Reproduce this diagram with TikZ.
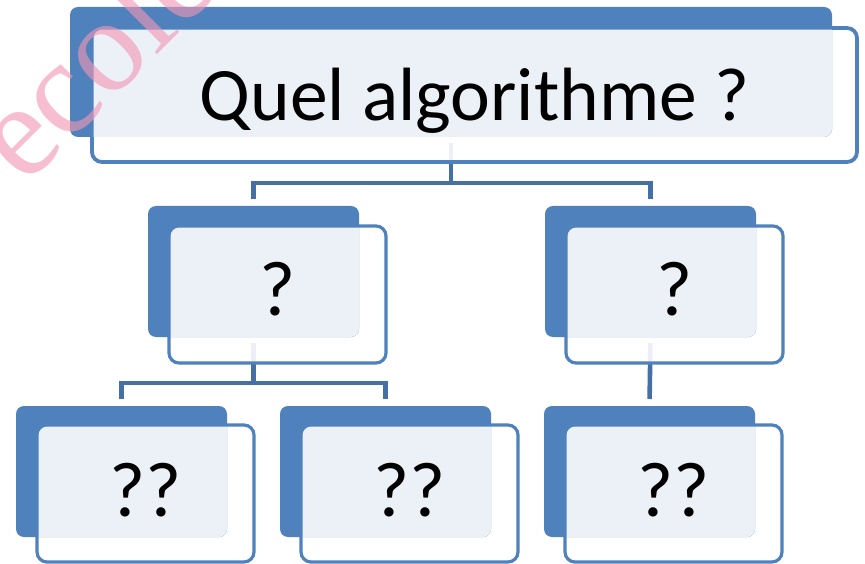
\documentclass[tikz,border=0pt]{standalone}
\usepackage{fontspec}
\setmainfont{Carlito}
\newfontfamily\wmfont{Liberation Serif}
\usetikzlibrary{calc}
\definecolor{accent}{HTML}{4F81BD}
\definecolor{lightfill}{HTML}{ECF0F7}
\definecolor{conn}{HTML}{4470A6}
\definecolor{wmpink}{RGB}{242,150,180}
\pgfdeclarelayer{bg}
\pgfsetlayers{bg,main}
\newcommand\lightpart[2]{%
  \begin{scope}
    \clip[rounded corners=8.4pt] ($(#1.north west)+(1.6,1.6)$) rectangle ($(#1.south east)+(-1.6,-1.6)$);
    \fill[lightfill,rounded corners=8pt] (#2.north west) rectangle (#2.south east);
  \end{scope}}
\begin{document}
\begin{tikzpicture}[x=1pt,y=-1pt,
  backbox/.style={rectangle, fill=accent, rounded corners=8pt, inner sep=0pt, outer sep=0pt, anchor=north west, minimum width=211pt, minimum height=131pt},
  framebox/.style={rectangle, draw=accent, line width=3.2pt, fill=white, fill opacity=0.9, rounded corners=10pt, inner sep=0pt, outer sep=0pt, anchor=north west, minimum width=217pt, minimum height=137pt},
  lbl/.style={font=\fontsize{78}{80}\selectfont, anchor=base, inner sep=0pt, text=black},
  link/.style={draw=conn, line width=4.6pt},
  wm/.style={font=\wmfont\fontsize{133}{133}\selectfont, text=wmpink, text opacity=0.62, rotate=45, anchor=base west, inner sep=0pt}]
\useasboundingbox (0,0) rectangle (865,564);

% top box
\node[framebox, line width=3.8pt, minimum width=765pt, minimum height=134pt] (f0) at (92,28) {};
\node[backbox, minimum width=762pt, minimum height=130pt] (b0) at (70,7) {};
\lightpart{f0}{b0}
\node[lbl, font=\fontsize{75.5}{80}\selectfont] (t0) at ($(f0.center)+(0,26)$) {Quel algorithme ?};

% middle left
\node[framebox] (f1) at (169,226) {};
\node[backbox] (b1) at (148,206) {};
\lightpart{f1}{b1}
\node[lbl] (t1) at ($(f1.center)+(0,21)$) {?};

% middle right
\node[framebox] (f2) at (566,226) {};
\node[backbox] (b2) at (545,206) {};
\lightpart{f2}{b2}
\node[lbl] (t2) at ($(f2.center)+(0,21)$) {?};

% bottom left
\node[framebox] (f3) at (37,425) {};
\node[backbox] (b3) at (16,406) {};
\lightpart{f3}{b3}
\node[lbl] (t3) at ($(f3.center)+(0,23)$) {??};

% bottom middle
\node[framebox] (f4) at (301,425) {};
\node[backbox] (b4) at (280,406) {};
\lightpart{f4}{b4}
\node[lbl] (t4) at ($(f4.center)+(0,23)$) {??};

% bottom right
\node[framebox] (f5) at (565,425) {};
\node[backbox] (b5) at (544,406) {};
\lightpart{f5}{b5}
\node[lbl] (t5) at ($(f5.center)+(0,23)$) {??};

% connectors
\begin{pgfonlayer}{bg}
  \draw[link, shorten <=6pt] (b0.south) -- ++(0,46) coordinate (h0);
  \draw[link, shorten >=7pt] (h0) -| (b1.north);
  \draw[link, shorten >=7pt] (h0) -| (b2.north);
  \draw[link, shorten <=6pt] (b1.south) -- ++(0,46) coordinate (h1);
  \draw[link, shorten >=7pt] (h1) -| (b3.north);
  \draw[link, shorten >=7pt] (h1) -| (b4.north);
  \draw[link, shorten <=6pt, shorten >=7pt] (b2.south) -- (b5.north);
\end{pgfonlayer}

% watermark
\node[wm] (w) at (25,187) {ecole};
\end{tikzpicture}
\end{document}
